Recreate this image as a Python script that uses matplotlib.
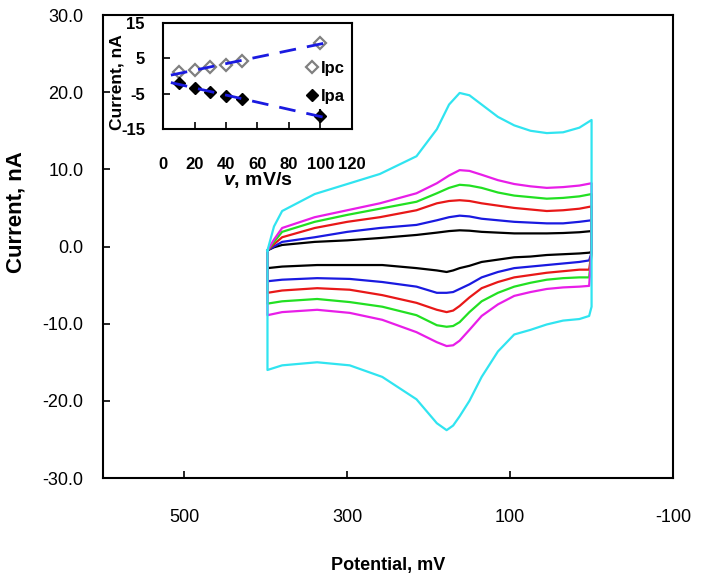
import numpy as np
import matplotlib
matplotlib.use('Agg')
import matplotlib.pyplot as plt

plt.rcParams['font.family'] = ['Liberation Sans', 'DejaVu Sans']
plt.rcParams['mathtext.fontset'] = 'custom'
plt.rcParams['mathtext.it'] = 'Liberation Sans:bold:italic'
plt.rcParams['mathtext.rm'] = 'Liberation Sans:bold'
plt.rcParams['axes.unicode_minus'] = False

# cyclic voltammograms, current in nA
scan_rates = [10, 20, 30, 40, 50, 100]  # mV/s
colors = ['#000000', '#1a1ae0', '#e81818', '#22e022', '#e81ee8', '#30e4f0']

E_up = [398, 390, 380, 340, 300, 260, 215, 190, 175, 162, 150, 135, 115, 95, 75, 55, 35, 15, 0]
I_up = {
    10: [-0.5, -0.1, 0.2, 0.6, 0.8, 1.1, 1.5, 1.8, 2.0, 2.1, 2.05, 1.9, 1.8, 1.7, 1.7, 1.7, 1.75, 1.85, 2.0],
    20: [-0.5, 0.0, 0.6, 1.2, 1.9, 2.4, 2.8, 3.4, 3.8, 4.0, 3.9, 3.6, 3.4, 3.2, 3.1, 3.0, 3.0, 3.2, 3.4],
    30: [-0.5, 0.3, 1.2, 2.4, 3.2, 3.8, 4.7, 5.6, 5.9, 6.0, 5.9, 5.6, 5.3, 5.0, 4.8, 4.6, 4.7, 4.9, 5.2],
    40: [-0.5, 0.6, 1.9, 3.2, 4.1, 4.9, 5.8, 6.9, 7.6, 8.0, 7.9, 7.6, 7.0, 6.6, 6.4, 6.2, 6.3, 6.5, 6.8],
    50: [-0.5, 0.9, 2.4, 3.8, 4.7, 5.6, 6.9, 8.2, 9.2, 9.9, 9.8, 9.3, 8.6, 8.1, 7.8, 7.6, 7.7, 7.9, 8.2],
    100: [-0.5, 2.6, 4.6, 6.8, 8.1, 9.4, 11.7, 15.2, 18.4, 19.9, 19.6, 18.4, 16.8, 15.7, 15.0, 14.7, 14.8, 15.4, 16.4],
}

E_dn = [0, 3, 15, 35, 55, 75, 95, 115, 135, 150, 162, 170, 178, 190, 215, 257, 297, 337, 380, 398]
I_dn = {
    10: [-0.7, -0.8, -0.9, -1.0, -1.1, -1.3, -1.4, -1.7, -2.0, -2.5, -2.8, -3.1, -3.3, -3.1, -2.8, -2.4, -2.4, -2.4, -2.6, -2.8],
    20: [-0.8, -1.8, -2.0, -2.2, -2.4, -2.6, -2.8, -3.3, -4.0, -4.9, -5.5, -5.9, -6.0, -6.0, -5.2, -4.6, -4.2, -4.1, -4.3, -4.5],
    30: [-0.8, -3.0, -3.0, -3.2, -3.4, -3.7, -4.0, -4.6, -5.4, -6.6, -7.7, -8.3, -8.5, -8.2, -7.3, -6.3, -5.6, -5.4, -5.7, -6.0],
    40: [-0.8, -4.0, -4.0, -4.1, -4.3, -4.7, -5.2, -6.0, -7.1, -8.5, -9.8, -10.3, -10.4, -10.2, -8.9, -7.8, -7.2, -6.8, -7.1, -7.4],
    50: [-0.7, -5.1, -5.2, -5.3, -5.5, -5.9, -6.4, -7.5, -9.0, -10.8, -12.2, -12.8, -12.9, -12.4, -11.1, -9.5, -8.6, -8.2, -8.5, -8.9],
    100: [-7.8, -9.0, -9.4, -9.6, -10.1, -10.8, -11.4, -13.6, -16.9, -20.0, -22.0, -23.2, -23.8, -22.9, -19.8, -16.9, -15.4, -15.0, -15.4, -16.0],
}

# inset: peak currents vs scan rate
v_rate = [10, 20, 30, 40, 50, 100]
ipc = [1.1, 1.7, 2.5, 3.1, 4.2, 9.3]
ipa = [-2.0, -3.4, -4.5, -5.7, -6.5, -11.3]
ipa_err = [0.8, 1.5, 1.0, 1.0, 0.6, 2.0]

fig = plt.figure(figsize=(7.02, 5.78), dpi=100)
ax = fig.add_axes([0.1467, 0.173, 0.812, 0.801])

for v, c in zip(scan_rates, colors):
    E = E_up + E_dn + [E_up[0]]
    I = I_up[v] + I_dn[v] + [I_up[v][0]]
    ax.plot(E, I, color=c, lw=1.6)

ax.set_xlim(600, -100)
ax.set_ylim(-30, 30)
ax.set_xticks([500, 300, 100, -100])
ax.set_yticks(np.arange(-30, 31, 10))
ax.set_yticklabels(['%.1f' % t for t in np.arange(-30, 31, 10)])
ax.tick_params(direction='in', length=5, width=1.2, labelsize=13)
ax.tick_params(axis='x', pad=22)
ax.tick_params(axis='y', pad=14)
for s in ax.spines.values():
    s.set_linewidth(1.5)
ax.set_xlabel('Potential, mV', fontsize=13, fontweight='bold')
ax.set_ylabel('Current, nA', fontsize=16, fontweight='bold')
ax.xaxis.set_label_coords(0.5, -0.17)
ax.yaxis.set_label_coords(-0.135, 0.574)

# inset
axi = fig.add_axes([0.2322, 0.7768, 0.2692, 0.1834])
axi.errorbar(v_rate, ipa, yerr=ipa_err, linestyle='none', ecolor='black', elinewidth=1.5, capsize=0)
axi.plot(v_rate, ipc, linestyle='none', marker='D', ms=6.5, mfc='white', mec='#808080', mew=1.6, label='Ipc')
axi.plot(v_rate, ipa, linestyle='none', marker='D', ms=6.5, mfc='black', mec='black', label='Ipa')
vfit = np.array([5, 105])
for data in (ipc, ipa):
    k, b = np.polyfit(v_rate, data, 1)
    axi.plot(vfit, k * vfit + b, color='#1a1ae0', lw=2, dashes=(6, 4))
axi.set_xlim(0, 120)
axi.set_ylim(-15, 15)
axi.set_xticks(np.arange(0, 121, 20))
axi.set_yticks([-15, -5, 5, 15])
axi.tick_params(direction='in', length=5, width=1.2, labelsize=12)
axi.tick_params(axis='x', pad=20)
axi.tick_params(axis='y', pad=13)
for lab in axi.get_xticklabels() + axi.get_yticklabels():
    lab.set_fontweight('bold')
for s in axi.spines.values():
    s.set_linewidth(1.5)
axi.set_xlabel(r'$v$, mV/s', fontsize=14, fontweight='bold', labelpad=-1)
axi.set_ylabel('Current, nA', fontsize=12.5, fontweight='bold')
axi.yaxis.set_label_coords(-0.206, 0.44)
axi.legend(loc='center left', bbox_to_anchor=(0.72, 0.44), frameon=False,
           prop={'weight': 'bold', 'size': 12}, handlelength=0.6, handletextpad=0.2,
           labelspacing=0.8, borderpad=0)

fig.savefig('out.png', dpi=100)
